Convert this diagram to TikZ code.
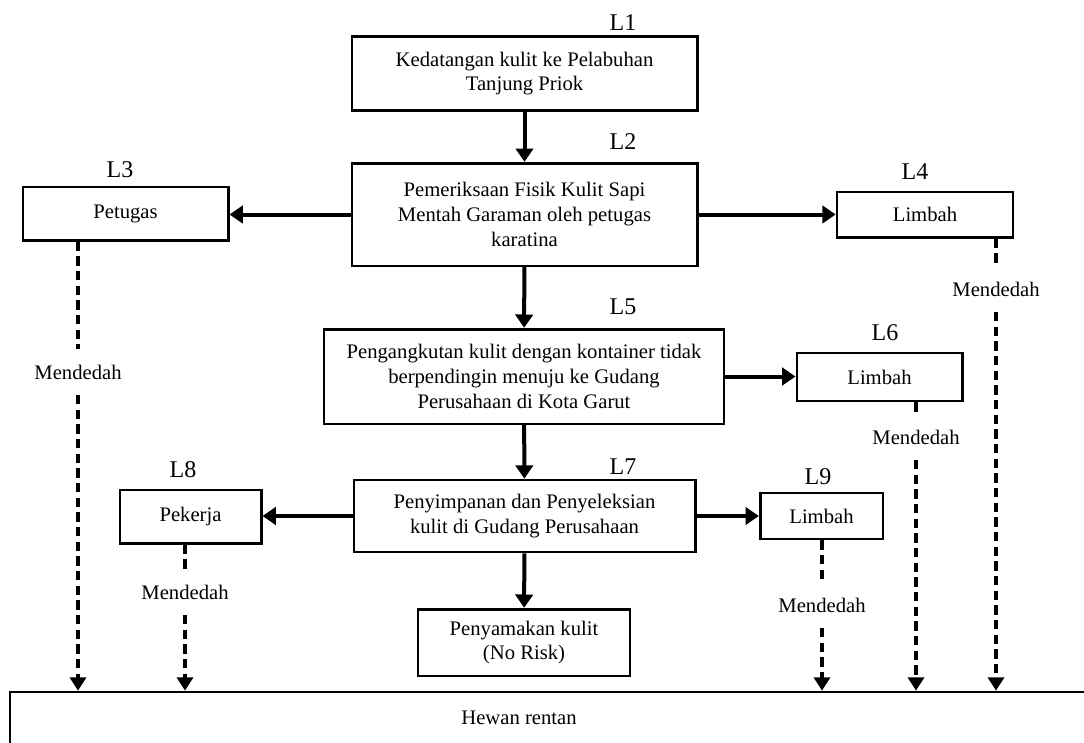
\documentclass[tikz,border=0pt]{standalone}
\usepackage{fontspec}
\setmainfont{Liberation Serif}
\usetikzlibrary{arrows.meta}

\begin{document}
\begin{tikzpicture}[x=0.75pt,y=-0.75pt,
    box/.style={draw, line width=2pt, align=center, inner sep=0pt,
        font=\fontsize{15.5}{18.5}\selectfont},
    lbl/.style={font=\fontsize{18}{20}\selectfont},
    mdd/.style={minimum height=34pt, inner sep=0pt, font=\fontsize{15.5}{18.5}\selectfont},
    flow/.style={line width=3pt, -{Triangle[length=10pt,width=13pt]}},
    expo/.style={line width=3pt, dash pattern=on 7pt off 4pt},
    expoarr/.style={expo, -{Triangle[length=10pt,width=12pt]}}]
    \useasboundingbox (0,0) rectangle (1084,742);
    \clip (0,0) rectangle (1084,742);

        \node[box, minimum width=259pt, minimum height=55pt] (l1) at (524.5,73.5) {Kedatangan kulit ke Pelabuhan\\Tanjung Priok};
        \node[box, minimum width=259pt, minimum height=77pt] (l2) at (524.5,214.5) {Pemeriksaan Fisik Kulit Sapi\\Mentah Garaman oleh petugas\\karatina};
        \node[box, minimum width=154pt, minimum height=40pt] (l3) at (125.5,213.5) {Petugas};
        \node[box, minimum width=132pt, minimum height=34pt] (l4) at (925,214.5) {Limbah};
        \node[box, minimum width=300pt, minimum height=71pt] (l5) at (524,376.5) {Pengangkutan kulit dengan kontainer tidak\\berpendingin menuju ke Gudang\\Perusahaan di Kota Garut};
        \node[box, minimum width=124pt, minimum height=36pt] (l6) at (879.5,377) {Limbah};
        \node[box, minimum width=256pt, minimum height=54pt] (l7) at (524.5,516) {Penyimpanan dan Penyeleksian\\kulit di Gudang Perusahaan};
        \node[box, minimum width=106pt, minimum height=40pt] (l8) at (190.5,516.5) {Pekerja};
        \node[box, minimum width=92pt, minimum height=34.5pt] (l9) at (821.5,516) {Limbah};
        \node[box, minimum width=159pt, minimum height=50pt] (tan) at (524,642.5) {Penyamakan kulit\\(No Risk)};
        \node[box, minimum width=817.5pt, minimum height=58.5pt] (hewan) at (555,731) {};
        \node[font=\fontsize{15.5}{18.5}\selectfont] (hewantxt) at (519,718) {Hewan rentan};

        \node[lbl] (n1) at (623,23) {L1};
        \node[lbl] (n2) at (623,142) {L2};
        \node[lbl] (n3) at (120,170) {L3};
        \node[lbl] (n4) at (915,172) {L4};
        \node[lbl] (n5) at (623,307) {L5};
        \node[lbl] (n6) at (885,333) {L6};
        \node[lbl] (n7) at (623,467) {L7};
        \node[lbl] (n8) at (183,470) {L8};
        \node[lbl] (n9) at (818,477) {L9};

        \node[mdd] (m3) at (78,372) {Mendedah};
        \node[mdd] (m4) at (996,289) {Mendedah};
        \node[mdd] (m6) at (916,437) {Mendedah};
        \node[mdd] (m8) at (185,592) {Mendedah};
        \node[mdd] (m9) at (822,605) {Mendedah};

        % alur proses
        \draw[flow] (l1) -- (l2);
        \draw[flow] (l2.west) -- (l2.west -| l3.east);
        \draw[flow] (l2.east) -- (l2.east -| l4.west);
        \draw[flow] (l2) -- (l5);
        \draw[flow] (l5.east) -- (l5.east -| l6.west);
        \draw[flow] (l5) -- (l7);
        \draw[flow] (l7.west) -- (l7.west -| l8.east);
        \draw[flow] (l7.east) -- (l7.east -| l9.west);
        \draw[flow] (l7) -- (tan);

        % jalur mendedah
        \draw[expo] (l3.south -| m3) -- (m3.north);
        \draw[expoarr] (m3.south) -- (m3 |- hewan.north);
        \draw[expo] (l4.south -| m4) -- (m4.north);
        \draw[expoarr] (m4.south) -- (m4 |- hewan.north);
        \draw[expo] (l6.south -| m6) -- (m6.north);
        \draw[expoarr] (m6.south) -- (m6 |- hewan.north);
        \draw[expo] (l8.south -| m8) -- (m8.north);
        \draw[expoarr] (m8.south) -- (m8 |- hewan.north);
        \draw[expo] (l9.south -| m9) -- (m9.north);
        \draw[expoarr] (m9.south) -- (m9 |- hewan.north);

\end{tikzpicture}
\end{document}
